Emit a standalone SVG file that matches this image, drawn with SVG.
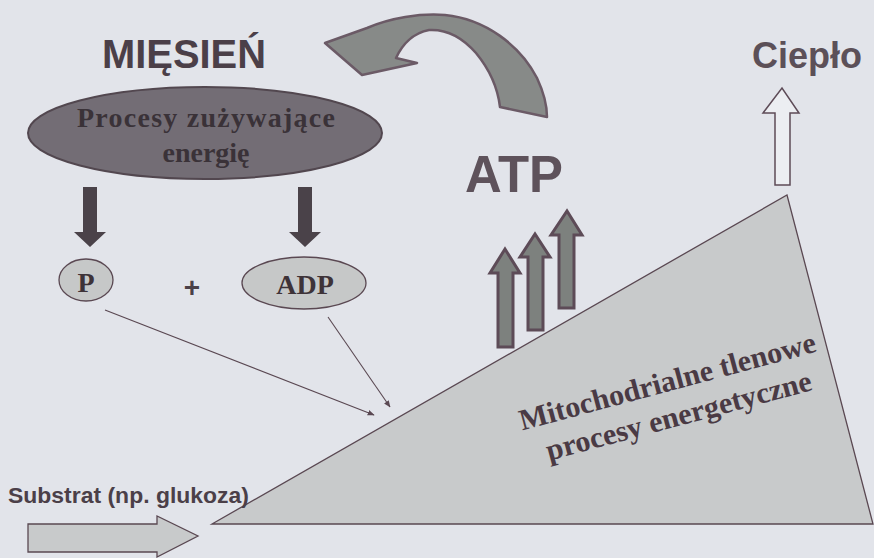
<svg xmlns="http://www.w3.org/2000/svg" width="874" height="558" viewBox="0 0 874 558">
<style>
.sans{font-family:"Liberation Sans",Arial,sans-serif;font-weight:bold}
.serif{font-family:"Liberation Serif","Times New Roman",serif;font-weight:bold}
.thin{stroke:#5a4852;stroke-width:1.1;fill:none}
.blk{fill:#4a4249}
.upar{fill:#7d817e;stroke:#5d4b57;stroke-width:3;stroke-linejoin:miter}
</style>
<defs>
<marker id="ah" viewBox="0 0 10 10" refX="9" refY="5" markerWidth="7" markerHeight="7" orient="auto" markerUnits="userSpaceOnUse">
<path d="M0,1 L10,5 L0,9 Z" fill="#5a4852"/>
</marker>
</defs>
<rect width="874" height="558" fill="#e2e4ea"/>

<g id="triangle">
<path d="M212,524 L787,195 L873,524 Z" fill="#c8cacb" stroke="#5a4852" stroke-width="1.3"/>
<g transform="translate(670,391) rotate(-15)" class="serif" font-size="30" fill="#4a3a44" text-anchor="middle">
<text x="0" y="0" textLength="306" lengthAdjust="spacingAndGlyphs">Mitochodrialne tlenowe</text>
<text x="2" y="36" textLength="274" lengthAdjust="spacingAndGlyphs">procesy energetyczne</text>
</g>
</g>

<g id="miesien">
<text x="102" y="68" class="sans" font-size="40" fill="#4b3f48" textLength="164" lengthAdjust="spacingAndGlyphs">MIĘSIEŃ</text>
</g>

<g id="procesy">
<ellipse cx="205" cy="133" rx="177" ry="46" fill="#736d75" stroke="#52474f" stroke-width="2"/>
<text x="206" y="127" class="serif" font-size="28" fill="#3a3238" text-anchor="middle" textLength="258" lengthAdjust="spacing">Procesy zużywające</text>
<text x="206" y="162" class="serif" font-size="28" fill="#3a3238" text-anchor="middle">energię</text>
</g>

<g id="atp">
<text x="465" y="192" class="sans" font-size="52" fill="#5e525b" textLength="98" lengthAdjust="spacingAndGlyphs">ATP</text>
</g>

<g id="cieplo">
<text x="752" y="68" class="sans" font-size="36" fill="#5c5058" textLength="110" lengthAdjust="spacingAndGlyphs">Ciepło</text>
</g>

<g id="p">
<ellipse cx="86" cy="280" rx="27" ry="21" fill="#c6c8c8" stroke="#5a4852" stroke-width="1.3"/>
<text x="86" y="292" class="serif" font-size="28" fill="#3e3338" text-anchor="middle">P</text>
</g>

<g id="plus">
<text x="192" y="297" class="sans" font-size="28" fill="#4a4048" text-anchor="middle">+</text>
</g>

<g id="adp">
<ellipse cx="304" cy="283" rx="62" ry="26" fill="#c6c8c8" stroke="#5a4852" stroke-width="1.3"/>
<text x="305" y="294" class="serif" font-size="28" fill="#3e3338" text-anchor="middle">ADP</text>
</g>

<g id="substrat">
<text x="8" y="503" class="sans" font-size="22" fill="#4b3f48" textLength="241" lengthAdjust="spacingAndGlyphs">Substrat (np. glukoza)</text>
<path d="M28,524 L157,524 L157,516 L198,536 L157,557 L157,552 L28,552 Z" fill="#c8cacb" stroke="#5a4852" stroke-width="1.3"/>
</g>

<g id="connectors">
<path d="M83,187 L97,187 L97,232 L106,232 L90,247 L74,232 L83,232 Z" class="blk"/>
<path d="M298,187 L312,187 L312,232 L321,232 L305,247 L289,232 L298,232 Z" class="blk"/>
<line x1="105" y1="310" x2="374" y2="415" class="thin" marker-end="url(#ah)"/>
<line x1="328" y1="317" x2="390" y2="407" class="thin" marker-end="url(#ah)"/>
<path d="M325,43 L367,28 C390,18 420,13 445,15 C485,19 520,45 537,78 C544,93 547,106 547,117 L500,107 C498,90 490,70 476,53 C462,37 446,29 429,30 C413,33 402,45 396,58 L417,63 L362,75 Z" fill="#878a88" stroke="#6b5a66" stroke-width="2.5" stroke-linejoin="round"/>
<path d="M498,347 L498,273 L490,273 L505,249 L520,273 L513,273 L513,347 Z" class="upar"/>
<path d="M528,330 L528,257 L520,257 L535,234 L550,257 L543,257 L543,330 Z" class="upar"/>
<path d="M559,308 L559,235 L551,235 L567,211 L582,235 L574,235 L574,308 Z" class="upar"/>
<path d="M775,185 L775,113 L763,113 L782,88 L799,113 L790,113 L790,185 Z" fill="#eceef2" stroke="#5d4b57" stroke-width="1.5"/>
</g>
</svg>
